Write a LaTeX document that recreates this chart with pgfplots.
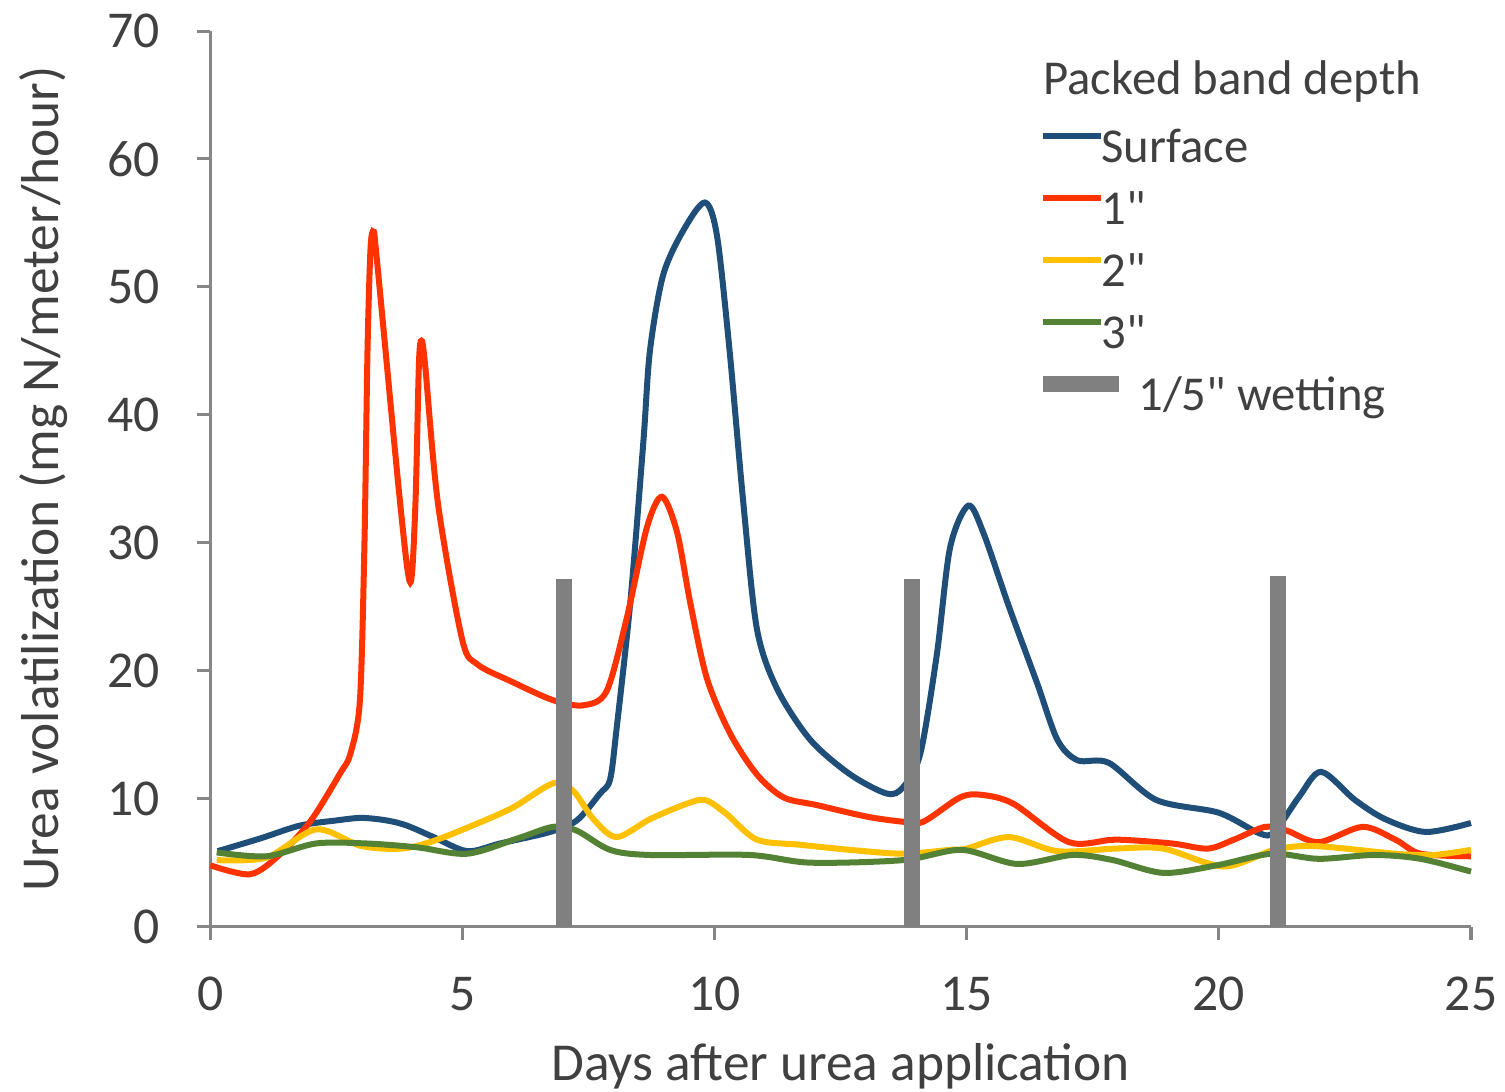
\documentclass[border=0pt]{standalone}
\usepackage{fontspec}
\setmainfont{Carlito}[Ligatures=TeXOff]
\usepackage{pgfplots}
\pgfplotsset{compat=1.18}
\definecolor{cblue}{HTML}{1F4E79}
\definecolor{cred}{HTML}{FF3300}
\definecolor{cyellow}{HTML}{FFC000}
\definecolor{cgreen}{HTML}{548235}
\definecolor{wetgray}{HTML}{808080}
\definecolor{axgray}{HTML}{868686}
\definecolor{txt}{HTML}{404040}
\begin{document}
\begin{tikzpicture}
\begin{axis}[
  at={(0,0)}, anchor=south west,
  scale only axis, width=378pt, height=268.5pt,
  xmin=0, xmax=25, ymin=0, ymax=70,
  axis lines=left,
  axis line style={-, draw=axgray, line width=0.9pt},
  xtick={0,5,...,25}, ytick={0,10,...,70},
  tick align=outside, major tick length=4pt,
  tick style={draw=axgray, line width=0.9pt},
  /pgf/number format/assume math mode=true,
  ticklabel style={font=\fontsize{15.5}{15.5}\selectfont, text=txt},
  yticklabel style={inner sep=0pt, xshift=-11pt},
  xticklabel style={inner sep=0pt, yshift=-11pt},
  xlabel={Days after urea application},
  ylabel={Urea volatilization (mg N/meter/hour)},
  label style={font=\fontsize{16}{16}\selectfont, text=txt},
  xlabel style={at={(axis description cs:0.5,0)}, anchor=base, yshift=-46.2pt},
  ylabel style={at={(axis description cs:-0.1206,0.5)}, anchor=base},
  legend style={draw=none, fill=none, at={(axis description cs:0.6539,0.895)}, anchor=north west,
    font=\fontsize{14.6}{14.6}\selectfont, text=txt, row sep=4.6pt, inner sep=0pt,
    nodes={inner sep=0pt, text height=11pt, text depth=3pt}},
  legend cell align=left,
  legend image code/.code={\draw[#1, overlay] (3pt,4pt) -- (17.4pt,4pt); \path (0pt,4pt) -- (15pt,4pt);},
  clip=false,
]
\addplot[smooth, cblue, line width=1.8pt] coordinates {
(0.15,5.9)(1.0,6.9)(1.78,7.9)(2.5,8.3)(3.0,8.5)(3.5,8.3)(3.9,7.9)(4.43,7.0)(5.1,5.9)(5.75,6.5)(6.74,7.4)(7.27,8.3)(7.73,10.4)(7.93,11.5)(8.06,15.5)(8.33,25.3)(8.59,37.9)(8.72,45)(8.98,50.9)(9.38,54.4)(9.81,56.6)(10.05,54)(10.3,45)(10.57,33.2)(10.84,23.3)(11.24,18.6)(11.9,14.6)(12.69,11.9)(13.42,10.4)(13.74,10.9)(14.08,13.5)(14.41,21.3)(14.67,29.6)(15.03,32.9)(15.33,30.8)(15.84,25)(16.4,19)(16.8,14.6)(17.2,13.0)(17.82,12.8)(18.76,9.9)(20.0,8.9)(20.8,7.3)(21.1,7.4)(21.6,10.2)(22.03,12.1)(22.7,9.9)(23.3,8.4)(24.1,7.4)(25,8.1)
};
\addlegendentry{Surface}
\addplot[smooth, cred, line width=1.8pt] coordinates {
(0,4.8)(0.8,4.1)(1.4,5.7)(2.0,8.3)(2.58,12)(2.78,13.5)(2.97,17.7)(3.06,30)(3.12,45)(3.18,53)(3.24,54.3)(3.31,52)(3.77,33)(3.97,26.9)(4.07,33)(4.14,44)(4.19,45.8)(4.26,44)(4.52,33)(5.0,22.4)(5.3,20.5)(5.95,19.2)(6.8,17.7)(7.4,17.3)(7.86,18.4)(8.26,24.1)(8.66,31.2)(8.96,33.6)(9.26,30.8)(9.52,25.3)(9.85,19.4)(10.31,15.1)(10.84,11.9)(11.37,10.1)(12.03,9.5)(13.02,8.6)(13.74,8.2)(14.14,8.2)(14.87,10.1)(15.3,10.3)(15.93,9.6)(17.03,6.6)(17.96,6.8)(19.07,6.5)(19.78,6.1)(20.3,6.8)(20.92,7.8)(21.35,7.5)(21.98,6.6)(22.85,7.8)(23.5,6.8)(24.0,5.7)(25,5.5)
};
\addlegendentry{1"}
\addplot[smooth, cyellow, line width=1.8pt] coordinates {
(0.13,5.2)(1.12,5.4)(2.1,7.6)(3.0,6.3)(3.8,6.1)(4.43,6.7)(5.2,7.9)(6.0,9.3)(6.8,11.2)(7.2,10.6)(7.6,8.4)(8.06,7.0)(8.72,8.4)(9.38,9.5)(9.81,9.9)(10.24,8.8)(10.84,6.8)(11.7,6.4)(12.69,6.0)(13.74,5.7)(14.67,6.0)(15.0,6.1)(15.84,7.0)(16.8,5.9)(17.96,6.1)(18.9,6.1)(20.1,4.7)(21.1,6.0)(21.9,6.3)(23.5,5.7)(24.25,5.6)(25,6.0)
};
\addlegendentry{2"}
\addplot[smooth, cgreen, line width=1.8pt] coordinates {
(0.13,5.8)(1.12,5.5)(2.1,6.5)(3.1,6.5)(4.1,6.2)(5.1,5.7)(6.1,6.9)(6.8,7.8)(7.27,7.5)(7.93,6.0)(8.72,5.6)(10.7,5.6)(11.9,5.0)(13.74,5.2)(14.9,6.0)(16.0,4.9)(17.1,5.6)(17.9,5.2)(18.9,4.2)(19.97,4.8)(21.05,5.7)(21.98,5.3)(23.08,5.6)(24.0,5.3)(25,4.3)
};
\addlegendentry{3"}
\addplot[ycomb, wetgray, line width=4.8pt, no markers,
  legend image code/.code={\draw[wetgray, line width=4.8pt, overlay] (3pt,4pt) -- (22.8pt,4pt); \path (0pt,4pt) -- (15pt,4pt);}]
  coordinates {(7.02,27.2)(13.92,27.2)(21.17,27.4)};
\addlegendentry{\hspace{11.1pt}1/5" wetting}
\node[anchor=west, inner sep=0pt, font=\fontsize{14.6}{14.6}\selectfont, text=txt] at (axis cs:16.51,66.05) {Packed band depth};
\end{axis}
\pgfresetboundingbox
\path[use as bounding box] (-63pt,-49.5pt) rectangle (388.2pt,277.8pt);
\end{tikzpicture}
\end{document}
